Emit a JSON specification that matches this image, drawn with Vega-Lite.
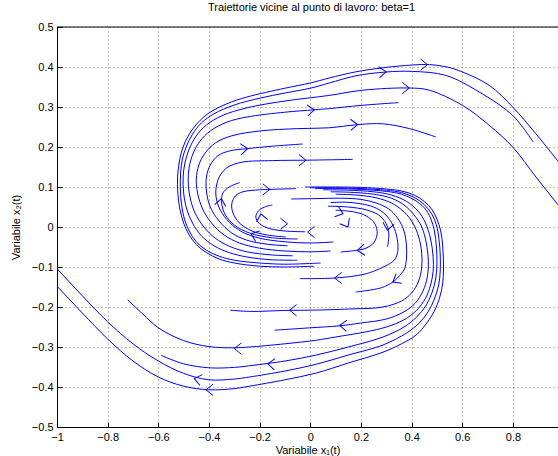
{
 "$schema": "https://vega.github.io/schema/vega-lite/v6.json",
 "width": 501, "height": 400,
 "autosize": {"type": "none"},
 "padding": {"left": 57, "top": 27, "right": 0, "bottom": 29},
 "background": "white",
 "config": {
  "view": {"stroke": null},
  "font": "Liberation Sans",
  "axis": {"domainColor": "#000", "domainWidth": 1, "tickColor": "#000", "tickSize": -5, "tickWidth": 1,
   "labelFont": "Liberation Sans", "labelFontSize": 11, "labelColor": "#000", "labelPadding": 9,
   "titleFont": "Liberation Sans", "titleFontSize": 11, "titleFontWeight": "normal", "titleColor": "#000",
   "gridColor": "#808080", "gridDash": [1, 3], "gridWidth": 1, "labelFlush": false, "labelOverlap": false}
 },
 "title": {"text": "Traiettorie vicine al punto di lavoro: beta=1", "fontSize": 11, "fontWeight": "normal", "color": "#000", "font": "Liberation Sans", "offset": 8, "dx": 4},
 "datasets": {
  "lines": [
   {"c":"L1","x":0.015,"y":-0.098},{"c":"L1","x":-0.1,"y":-0.1},{"c":"L1","x":-0.2,"y":-0.098},{"c":"L1","x":-0.3,"y":-0.09},{"c":"L1","x":-0.36,"y":-0.08},{"c":"L1","x":-0.41,"y":-0.064},{"c":"L1","x":-0.45,"y":-0.044},{"c":"L1","x":-0.48,"y":-0.018},{"c":"L1","x":-0.5,"y":0.01},{"c":"L1","x":-0.515,"y":0.045},{"c":"L1","x":-0.523,"y":0.085},{"c":"L1","x":-0.524,"y":0.125},{"c":"L1","x":-0.518,"y":0.16},{"c":"L1","x":-0.505,"y":0.195},{"c":"L1","x":-0.48,"y":0.23},{"c":"L1","x":-0.445,"y":0.26},{"c":"L1","x":-0.4,"y":0.285},{"c":"L1","x":-0.33,"y":0.308},{"c":"L1","x":-0.25,"y":0.325},{"c":"L1","x":-0.1,"y":0.347},{"c":"L1","x":0.0,"y":0.36},{"c":"L1","x":0.075,"y":0.3725},{"c":"L1","x":0.18,"y":0.388},{"c":"L1","x":0.2855,"y":0.398},{"c":"L1","x":0.404,"y":0.405},{"c":"L1","x":0.47,"y":0.406},{"c":"L1","x":0.54,"y":0.4},{"c":"L1","x":0.601,"y":0.3875},{"c":"L1","x":0.707,"y":0.354},{"c":"L1","x":0.799,"y":0.3},{"c":"L1","x":0.891,"y":0.233},{"c":"L1","x":0.975,"y":0.167},{"c":"L1","x":1.05,"y":0.11},
   {"c":"L2","x":0.041,"y":-0.09},{"c":"L2","x":-0.1,"y":-0.093},{"c":"L2","x":-0.2,"y":-0.09},{"c":"L2","x":-0.3,"y":-0.083},{"c":"L2","x":-0.36,"y":-0.073},{"c":"L2","x":-0.41,"y":-0.058},{"c":"L2","x":-0.45,"y":-0.037},{"c":"L2","x":-0.478,"y":-0.01},{"c":"L2","x":-0.497,"y":0.02},{"c":"L2","x":-0.508,"y":0.055},{"c":"L2","x":-0.513,"y":0.095},{"c":"L2","x":-0.512,"y":0.135},{"c":"L2","x":-0.505,"y":0.17},{"c":"L2","x":-0.49,"y":0.2},{"c":"L2","x":-0.465,"y":0.232},{"c":"L2","x":-0.43,"y":0.26},{"c":"L2","x":-0.38,"y":0.283},{"c":"L2","x":-0.3,"y":0.305},{"c":"L2","x":-0.2,"y":0.322},{"c":"L2","x":-0.1,"y":0.335},{"c":"L2","x":0.0,"y":0.347},{"c":"L2","x":0.075,"y":0.36},{"c":"L2","x":0.18,"y":0.378},{"c":"L2","x":0.299,"y":0.3875},{"c":"L2","x":0.404,"y":0.389},{"c":"L2","x":0.535,"y":0.379},{"c":"L2","x":0.667,"y":0.3375},{"c":"L2","x":0.799,"y":0.279},{"c":"L2","x":0.88,"y":0.2125},
   {"c":"L3","x":-0.051,"y":-0.083},{"c":"L3","x":-0.15,"y":-0.082},{"c":"L3","x":-0.25,"y":-0.075},{"c":"L3","x":-0.32,"y":-0.064},{"c":"L3","x":-0.38,"y":-0.047},{"c":"L3","x":-0.43,"y":-0.022},{"c":"L3","x":-0.465,"y":0.01},{"c":"L3","x":-0.488,"y":0.045},{"c":"L3","x":-0.5,"y":0.085},{"c":"L3","x":-0.502,"y":0.125},{"c":"L3","x":-0.495,"y":0.16},{"c":"L3","x":-0.478,"y":0.195},{"c":"L3","x":-0.45,"y":0.228},{"c":"L3","x":-0.41,"y":0.255},{"c":"L3","x":-0.35,"y":0.278},{"c":"L3","x":-0.25,"y":0.298},{"c":"L3","x":-0.1,"y":0.315},{"c":"L3","x":0.075,"y":0.329},{"c":"L3","x":0.207,"y":0.342},{"c":"L3","x":0.391,"y":0.3475},{"c":"L3","x":0.47,"y":0.342},{"c":"L3","x":0.601,"y":0.304},{"c":"L3","x":0.707,"y":0.254},{"c":"L3","x":0.799,"y":0.2},{"c":"L3","x":0.891,"y":0.125},{"c":"L3","x":0.975,"y":0.058},{"c":"L3","x":1.05,"y":-0.005},
   {"c":"L4","x":-0.07,"y":-0.072},{"c":"L4","x":-0.15,"y":-0.07},{"c":"L4","x":-0.25,"y":-0.062},{"c":"L4","x":-0.32,"y":-0.048},{"c":"L4","x":-0.375,"y":-0.028},{"c":"L4","x":-0.42,"y":0.0},{"c":"L4","x":-0.455,"y":0.035},{"c":"L4","x":-0.475,"y":0.075},{"c":"L4","x":-0.482,"y":0.115},{"c":"L4","x":-0.478,"y":0.15},{"c":"L4","x":-0.462,"y":0.185},{"c":"L4","x":-0.435,"y":0.215},{"c":"L4","x":-0.395,"y":0.24},{"c":"L4","x":-0.33,"y":0.262},{"c":"L4","x":-0.25,"y":0.275},{"c":"L4","x":-0.1,"y":0.287},{"c":"L4","x":0.016,"y":0.293},{"c":"L4","x":0.075,"y":0.296},{"c":"L4","x":0.2,"y":0.304},{"c":"L4","x":0.349,"y":0.311},
   {"c":"L5","x":0.08,"y":-0.06},{"c":"L5","x":0.0,"y":-0.062},{"c":"L5","x":-0.1,"y":-0.06},{"c":"L5","x":-0.2,"y":-0.053},{"c":"L5","x":-0.28,"y":-0.04},{"c":"L5","x":-0.34,"y":-0.02},{"c":"L5","x":-0.39,"y":0.01},{"c":"L5","x":-0.425,"y":0.045},{"c":"L5","x":-0.445,"y":0.085},{"c":"L5","x":-0.45,"y":0.12},{"c":"L5","x":-0.44,"y":0.155},{"c":"L5","x":-0.415,"y":0.185},{"c":"L5","x":-0.375,"y":0.21},{"c":"L5","x":-0.31,"y":0.228},{"c":"L5","x":-0.2,"y":0.24},{"c":"L5","x":-0.05,"y":0.246},{"c":"L5","x":0.075,"y":0.248},{"c":"L5","x":0.187,"y":0.256},{"c":"L5","x":0.2855,"y":0.258},{"c":"L5","x":0.391,"y":0.246},{"c":"L5","x":0.496,"y":0.225},
   {"c":"L6","x":-0.09,"y":-0.047},{"c":"L6","x":-0.17,"y":-0.043},{"c":"L6","x":-0.25,"y":-0.033},{"c":"L6","x":-0.31,"y":-0.015},{"c":"L6","x":-0.36,"y":0.015},{"c":"L6","x":-0.395,"y":0.05},{"c":"L6","x":-0.41,"y":0.09},{"c":"L6","x":-0.41,"y":0.125},{"c":"L6","x":-0.395,"y":0.155},{"c":"L6","x":-0.365,"y":0.178},{"c":"L6","x":-0.32,"y":0.19},{"c":"L6","x":-0.2475,"y":0.196},{"c":"L6","x":-0.15,"y":0.202},{"c":"L6","x":-0.03,"y":0.2075},
   {"c":"L7","x":0.091,"y":-0.0375},{"c":"L7","x":0.0,"y":-0.04},{"c":"L7","x":-0.1,"y":-0.037},{"c":"L7","x":-0.2,"y":-0.028},{"c":"L7","x":-0.27,"y":-0.012},{"c":"L7","x":-0.32,"y":0.012},{"c":"L7","x":-0.355,"y":0.042},{"c":"L7","x":-0.372,"y":0.075},{"c":"L7","x":-0.37,"y":0.105},{"c":"L7","x":-0.355,"y":0.13},{"c":"L7","x":-0.325,"y":0.15},{"c":"L7","x":-0.27,"y":0.162},{"c":"L7","x":-0.15,"y":0.166},{"c":"L7","x":-0.017,"y":0.167},{"c":"L7","x":0.08,"y":0.168},{"c":"L7","x":0.167,"y":0.169},
   {"c":"L9","x":-0.05,"y":-0.03},{"c":"L9","x":-0.15,"y":-0.027},{"c":"L9","x":-0.24,"y":-0.015},{"c":"L9","x":-0.3,"y":0.005},{"c":"L9","x":-0.335,"y":0.03},{"c":"L9","x":-0.35,"y":0.06},{"c":"L9","x":-0.345,"y":0.085},{"c":"L9","x":-0.32,"y":0.1},{"c":"L9","x":-0.279,"y":0.111},
   {"c":"L8","x":-0.097,"y":-0.025},{"c":"L8","x":-0.17,"y":-0.02},{"c":"L8","x":-0.23,"y":-0.01},{"c":"L8","x":-0.28,"y":0.01},{"c":"L8","x":-0.305,"y":0.035},{"c":"L8","x":-0.31,"y":0.058},{"c":"L8","x":-0.295,"y":0.078},{"c":"L8","x":-0.266,"y":0.088},{"c":"L8","x":-0.2,"y":0.093},{"c":"L8","x":-0.155,"y":0.094},{"c":"L8","x":-0.056,"y":0.096},
   {"c":"L10","x":-0.02,"y":-0.012},{"c":"L10","x":-0.1,"y":-0.01},{"c":"L10","x":-0.16,"y":-0.004},{"c":"L10","x":-0.2,"y":0.008},{"c":"L10","x":-0.215,"y":0.025},{"c":"L10","x":-0.205,"y":0.04},{"c":"L10","x":-0.18,"y":0.05},{"c":"L10","x":-0.15,"y":0.055},
   {"c":"R1","x":-0.02,"y":0.1},{"c":"R1","x":0.1,"y":0.1},{"c":"R1","x":0.2,"y":0.099},{"c":"R1","x":0.3,"y":0.095},{"c":"R1","x":0.36,"y":0.09},{"c":"R1","x":0.41,"y":0.08},{"c":"R1","x":0.45,"y":0.064},{"c":"R1","x":0.48,"y":0.044},{"c":"R1","x":0.5,"y":0.02},{"c":"R1","x":0.515,"y":-0.01},{"c":"R1","x":0.523,"y":-0.05},{"c":"R1","x":0.526,"y":-0.1},{"c":"R1","x":0.523,"y":-0.14},{"c":"R1","x":0.51,"y":-0.178},{"c":"R1","x":0.49,"y":-0.21},{"c":"R1","x":0.46,"y":-0.24},{"c":"R1","x":0.418,"y":-0.27},{"c":"R1","x":0.36,"y":-0.292},{"c":"R1","x":0.287,"y":-0.313},{"c":"R1","x":0.15,"y":-0.34},{"c":"R1","x":0.024,"y":-0.365},{"c":"R1","x":-0.1,"y":-0.382},{"c":"R1","x":-0.24,"y":-0.398},{"c":"R1","x":-0.3,"y":-0.404},{"c":"R1","x":-0.4,"y":-0.407},{"c":"R1","x":-0.5,"y":-0.398},{"c":"R1","x":-0.6,"y":-0.375},{"c":"R1","x":-0.7,"y":-0.335},{"c":"R1","x":-0.8,"y":-0.28},{"c":"R1","x":-0.9,"y":-0.215},{"c":"R1","x":-1.0,"y":-0.148},{"c":"R1","x":-1.05,"y":-0.115},
   {"c":"R2","x":0.0,"y":0.098},{"c":"R2","x":0.1,"y":0.098},{"c":"R2","x":0.2,"y":0.096},{"c":"R2","x":0.3,"y":0.092},{"c":"R2","x":0.36,"y":0.086},{"c":"R2","x":0.41,"y":0.074},{"c":"R2","x":0.45,"y":0.056},{"c":"R2","x":0.48,"y":0.032},{"c":"R2","x":0.498,"y":0.005},{"c":"R2","x":0.508,"y":-0.03},{"c":"R2","x":0.513,"y":-0.07},{"c":"R2","x":0.513,"y":-0.11},{"c":"R2","x":0.507,"y":-0.145},{"c":"R2","x":0.49,"y":-0.18},{"c":"R2","x":0.465,"y":-0.212},{"c":"R2","x":0.43,"y":-0.24},{"c":"R2","x":0.38,"y":-0.265},{"c":"R2","x":0.287,"y":-0.295},{"c":"R2","x":0.15,"y":-0.32},{"c":"R2","x":0.024,"y":-0.343},{"c":"R2","x":-0.1,"y":-0.36},{"c":"R2","x":-0.24,"y":-0.375},{"c":"R2","x":-0.3,"y":-0.38},{"c":"R2","x":-0.4,"y":-0.382},{"c":"R2","x":-0.5,"y":-0.366},{"c":"R2","x":-0.6,"y":-0.335},{"c":"R2","x":-0.7,"y":-0.292},{"c":"R2","x":-0.8,"y":-0.237},{"c":"R2","x":-0.9,"y":-0.172},{"c":"R2","x":-1.0,"y":-0.104},{"c":"R2","x":-1.05,"y":-0.07},
   {"c":"R3","x":0.02,"y":0.096},{"c":"R3","x":0.1,"y":0.096},{"c":"R3","x":0.2,"y":0.094},{"c":"R3","x":0.3,"y":0.089},{"c":"R3","x":0.36,"y":0.082},{"c":"R3","x":0.41,"y":0.068},{"c":"R3","x":0.45,"y":0.048},{"c":"R3","x":0.475,"y":0.022},{"c":"R3","x":0.49,"y":-0.01},{"c":"R3","x":0.498,"y":-0.05},{"c":"R3","x":0.5,"y":-0.095},{"c":"R3","x":0.495,"y":-0.13},{"c":"R3","x":0.48,"y":-0.165},{"c":"R3","x":0.455,"y":-0.198},{"c":"R3","x":0.42,"y":-0.225},{"c":"R3","x":0.37,"y":-0.25},{"c":"R3","x":0.287,"y":-0.275},{"c":"R3","x":0.15,"y":-0.3},{"c":"R3","x":0.024,"y":-0.32},{"c":"R3","x":-0.1,"y":-0.335},{"c":"R3","x":-0.167,"y":-0.341},{"c":"R3","x":-0.24,"y":-0.347},{"c":"R3","x":-0.3,"y":-0.351},{"c":"R3","x":-0.4,"y":-0.352},{"c":"R3","x":-0.5,"y":-0.342},{"c":"R3","x":-0.589,"y":-0.321},
   {"c":"R4","x":0.05,"y":0.093},{"c":"R4","x":0.15,"y":0.092},{"c":"R4","x":0.25,"y":0.088},{"c":"R4","x":0.32,"y":0.08},{"c":"R4","x":0.38,"y":0.064},{"c":"R4","x":0.425,"y":0.04},{"c":"R4","x":0.455,"y":0.01},{"c":"R4","x":0.475,"y":-0.03},{"c":"R4","x":0.485,"y":-0.075},{"c":"R4","x":0.485,"y":-0.11},{"c":"R4","x":0.475,"y":-0.145},{"c":"R4","x":0.455,"y":-0.178},{"c":"R4","x":0.42,"y":-0.208},{"c":"R4","x":0.37,"y":-0.232},{"c":"R4","x":0.3,"y":-0.25},{"c":"R4","x":0.221,"y":-0.262},{"c":"R4","x":0.1,"y":-0.275},{"c":"R4","x":0.024,"y":-0.283},{"c":"R4","x":-0.1,"y":-0.292},{"c":"R4","x":-0.24,"y":-0.3},{"c":"R4","x":-0.3,"y":-0.302},{"c":"R4","x":-0.4,"y":-0.299},{"c":"R4","x":-0.5,"y":-0.284},{"c":"R4","x":-0.6,"y":-0.252},{"c":"R4","x":-0.662,"y":-0.217},{"c":"R4","x":-0.721,"y":-0.182},
   {"c":"R5","x":0.08,"y":0.088},{"c":"R5","x":0.15,"y":0.087},{"c":"R5","x":0.25,"y":0.082},{"c":"R5","x":0.32,"y":0.072},{"c":"R5","x":0.37,"y":0.055},{"c":"R5","x":0.41,"y":0.03},{"c":"R5","x":0.44,"y":0.0},{"c":"R5","x":0.458,"y":-0.04},{"c":"R5","x":0.466,"y":-0.085},{"c":"R5","x":0.462,"y":-0.125},{"c":"R5","x":0.445,"y":-0.16},{"c":"R5","x":0.415,"y":-0.19},{"c":"R5","x":0.37,"y":-0.212},{"c":"R5","x":0.3,"y":-0.23},{"c":"R5","x":0.2,"y":-0.24},{"c":"R5","x":0.116,"y":-0.247},{"c":"R5","x":0.0,"y":-0.252},{"c":"R5","x":-0.141,"y":-0.258},
   {"c":"R6","x":0.1,"y":0.082},{"c":"R6","x":0.18,"y":0.08},{"c":"R6","x":0.26,"y":0.073},{"c":"R6","x":0.32,"y":0.06},{"c":"R6","x":0.37,"y":0.038},{"c":"R6","x":0.405,"y":0.01},{"c":"R6","x":0.428,"y":-0.025},{"c":"R6","x":0.44,"y":-0.065},{"c":"R6","x":0.44,"y":-0.1},{"c":"R6","x":0.428,"y":-0.135},{"c":"R6","x":0.4,"y":-0.165},{"c":"R6","x":0.36,"y":-0.185},{"c":"R6","x":0.287,"y":-0.2},{"c":"R6","x":0.155,"y":-0.205},{"c":"R6","x":0.0,"y":-0.208},{"c":"R6","x":-0.082,"y":-0.2083},{"c":"R6","x":-0.24,"y":-0.211},{"c":"R6","x":-0.316,"y":-0.208},
   {"c":"R7","x":-0.076,"y":0.07},{"c":"R7","x":0.02,"y":0.071},{"c":"R7","x":0.12,"y":0.072},{"c":"R7","x":0.2,"y":0.069},{"c":"R7","x":0.26,"y":0.06},{"c":"R7","x":0.31,"y":0.045},{"c":"R7","x":0.345,"y":0.022},{"c":"R7","x":0.37,"y":-0.01},{"c":"R7","x":0.38,"y":-0.05},{"c":"R7","x":0.379,"y":-0.083},{"c":"R7","x":0.372,"y":-0.105},{"c":"R7","x":0.359,"y":-0.1167},{"c":"R7","x":0.326,"y":-0.1375},{"c":"R7","x":0.28,"y":-0.152},{"c":"R7","x":0.179,"y":-0.1625},
   {"c":"R8","x":0.08,"y":0.061},{"c":"R8","x":0.14,"y":0.062},{"c":"R8","x":0.2,"y":0.058},{"c":"R8","x":0.25,"y":0.05},{"c":"R8","x":0.29,"y":0.035},{"c":"R8","x":0.32,"y":0.012},{"c":"R8","x":0.34,"y":-0.02},{"c":"R8","x":0.346,"y":-0.058},{"c":"R8","x":0.335,"y":-0.08},{"c":"R8","x":0.313,"y":-0.0917},{"c":"R8","x":0.221,"y":-0.1167},{"c":"R8","x":0.096,"y":-0.1275},{"c":"R8","x":-0.042,"y":-0.129},
   {"c":"R9","x":0.07,"y":0.052},{"c":"R9","x":0.15,"y":0.05},{"c":"R9","x":0.22,"y":0.043},{"c":"R9","x":0.27,"y":0.03},{"c":"R9","x":0.3,"y":0.008},{"c":"R9","x":0.31,"y":-0.015},{"c":"R9","x":0.305,"y":-0.05},
   {"c":"R10","x":0.1,"y":0.042},{"c":"R10","x":0.17,"y":0.038},{"c":"R10","x":0.22,"y":0.028},{"c":"R10","x":0.255,"y":0.008},{"c":"R10","x":0.264,"y":-0.017},{"c":"R10","x":0.25,"y":-0.04},{"c":"R10","x":0.22,"y":-0.053},{"c":"R10","x":0.186,"y":-0.058},{"c":"R10","x":0.12,"y":-0.0625}
  ],
  "arrows": [
   {"x":0.463,"y":0.406,"a":0},{"x":0.299,"y":0.388,"a":-4},{"x":0.391,"y":0.3475,"a":0},{"x":0.016,"y":0.293,"a":-5},
   {"x":0.187,"y":0.256,"a":-2},{"x":-0.017,"y":0.167,"a":0},{"x":-0.2475,"y":0.196,"a":-5},{"x":-0.16,"y":0.094,"a":0},
   {"x":-0.351,"y":0.071,"a":-80},{"x":-0.412,"y":-0.407,"a":180},{"x":-0.458,"y":-0.379,"a":192},{"x":-0.168,"y":-0.342,"a":184},
   {"x":-0.3,"y":-0.304,"a":180},{"x":0.116,"y":-0.246,"a":183},{"x":-0.082,"y":-0.208,"a":180},{"x":0.326,"y":-0.1375,"a":150},
   {"x":0.096,"y":-0.1275,"a":180},{"x":0.186,"y":-0.0583,"a":175},{"x":0.304,"y":-0.008,"a":100},{"x":-0.195,"y":0.033,"a":-100},
   {"x":-0.09,"y":0.008,"a":0},{"x":-0.011,"y":-0.0125,"a":180},{"x":-0.234,"y":-0.017,"a":200},{"x":0.129,"y":0.033,"a":20},
   {"x":0.149,"y":0.0,"a":60}
  ],
  "topticks": [{"x":-1},{"x":-0.8},{"x":-0.6},{"x":-0.4},{"x":-0.2},{"x":0},{"x":0.2},{"x":0.4},{"x":0.6},{"x":0.8}],
  "border": [{"x":-1,"x2":0.978,"y":0.5}]
 },
 "encoding": {
  "x": {"field": "x", "type": "quantitative", "scale": {"domain": [-1, 0.978], "nice": false, "zero": false},
   "axis": {"orient": "bottom", "values": [-1, -0.8, -0.6, -0.4, -0.2, 0, 0.2, 0.4, 0.6, 0.8], "format": ".1~f", "grid": true, "title": "Variabile x₁(t)", "titlePadding": 2}},
  "y": {"field": "y", "type": "quantitative", "scale": {"domain": [-0.5, 0.5], "nice": false, "zero": false},
   "axis": {"orient": "left", "values": [-0.5, -0.4, -0.3, -0.2, -0.1, 0, 0.1, 0.2, 0.3, 0.4, 0.5], "format": ".1~f", "grid": true, "title": "Variabile x₂(t)", "titlePadding": 10}}
 },
 "layer": [
  {
   "data": {"name": "lines"},
   "mark": {"type": "line", "color": "#0000ff", "strokeWidth": 1, "clip": true, "interpolate": "catmull-rom"},
   "encoding": {
    "detail": {"field": "c"},
    "order": {"value": null}
   }
  },
  {
   "data": {"name": "arrows"},
   "mark": {"type": "point", "shape": "M-1,-0.8L0,0L-1,0.8", "size": 196, "filled": false, "color": "#0000ff", "strokeWidth": 1, "opacity": 1, "clip": true},
   "encoding": {
    "angle": {"field": "a", "type": "quantitative", "scale": null}
   }
  },
  {
   "data": {"name": "topticks"},
   "mark": {"type": "tick", "orient": "vertical", "color": "#000", "size": 10, "thickness": 1, "opacity": 1, "clip": true},
   "encoding": {
    "y": {"datum": 0.5}
   }
  },
  {
   "data": {"name": "border"},
   "mark": {"type": "rule", "color": "#000", "strokeWidth": 1},
   "encoding": {
    "x2": {"field": "x2"}
   }
  }
 ]
}
